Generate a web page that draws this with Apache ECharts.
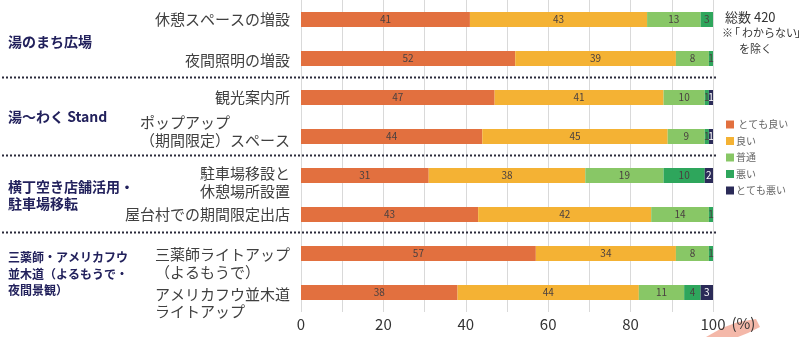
<!DOCTYPE html>
<html>
<head>
<meta charset="utf-8">
<script src="https://cdn.jsdelivr.net/npm/echarts@6/dist/echarts.min.js"></script>
<style>
  html, body { margin: 0; padding: 0; background: #fff; }
  #chart { width: 806px; height: 337px; }
</style>
</head>
<body>
<div id="chart"></div>
<script>
// Evaluation items (top to bottom)
const categories = [
  '休憩スペースの増設',
  '夜間照明の増設',
  '観光案内所',
  'ポップアップ\n（期間限定）スペース',
  '駐車場移設と\n休憩場所設置',
  '屋台村での期間限定出店',
  '三薬師ライトアップ\n（よるもうで）',
  'アメリカフウ並木道\nライトアップ'
];

// Share of answers per item (%)
const veryGood = [41, 52, 47, 44, 31, 43, 57, 38];
const good     = [43, 39, 41, 45, 38, 42, 34, 44];
const fair     = [13,  8, 10,  9, 19, 14,  8, 11];
const bad      = [ 3,  1,  1,  1, 10,  1,  1,  4];
const veryBad  = [ 0,  0,  1,  1,  2,  0,  0,  3];

const seriesNames = ['とても良い', '良い', '普通', '悪い', 'とても悪い'];
const seriesColors = ['#E2703F', '#F4B234', '#88C766', '#2EA65C', '#2B2B58'];

// Area groups drawn at the left edge
const groupLabels = [
  { text: '湯のまち広場', y: 42, size: 14 },
  { text: '湯〜わく Stand', y: 117, size: 14 },
  { text: '横丁空き店舗活用・\n駐車場移転', y: 195, size: 14, lh: 16.5 },
  { text: '三薬師・アメリカフウ\n並木道（よるもうで・\n夜間景観）', y: 274, size: 12, lh: 16.5 }
];
const separatorYs = [77.5, 155.5, 232.5];

const FONT = '"Noto Sans CJK JP", "Noto Sans", sans-serif';

// vertical nudges for the multi-line item labels
const labelPad = [null, [4, 0, 0, 0], null, [0, 0, 10, 0], [14, 0, 0, 0], null, [20, 0, 0, 0], [21, 0, 0, 0]];

const yData = categories.map((c, i) => {
  const item = { value: c };
  if (labelPad[i]) item.textStyle = { padding: labelPad[i] };
  return item;
});

const chart = echarts.init(document.getElementById('chart'), null, { renderer: 'canvas' });

const seriesData = [veryGood, good, fair, bad, veryBad];
const series = seriesData.map((arr, si) => ({
  name: seriesNames[si],
  type: 'bar',
  stack: 'total',
  barWidth: 15,
  data: arr,
  itemStyle: { color: seriesColors[si] },
  label: {
    show: true,
    position: 'inside',
    fontSize: 10,
    fontFamily: FONT,
    color: si === 4 ? '#ffffff' : '#4a4040',
    formatter: p => (p.value ? String(p.value) : '')
  }
}));

const graphics = [];
separatorYs.forEach(y => {
  graphics.push({
    type: 'line',
    shape: { x1: 2, y1: y, x2: 716, y2: y },
    style: { stroke: '#2a2a3a', lineWidth: 2, lineDash: [2, 2] },
    z: 10
  });
});
groupLabels.forEach(g => {
  graphics.push({
    type: 'text',
    x: 8,
    y: g.y,
    style: {
      text: g.text,
      font: 'bold ' + g.size + 'px ' + FONT,
      fill: '#22215C',
      lineHeight: g.lh || g.size + 4,
      verticalAlign: 'middle'
    }
  });
});

// footnote at top right
function note(text, x, y, size) {
  graphics.push({ type: 'text', x: x, y: y, style: { text: text, font: size + 'px ' + FONT, fill: '#333', verticalAlign: 'middle' } });
}
note('総数 420', 725, 17, 13);
note('※', 722, 33, 11);
note('「', 729, 33, 11);
note('わからない', 742, 33, 11);
note('」', 795, 33, 11);
note('を除く', 739, 49, 11);

// salmon brush stroke behind the axis unit
graphics.push({
  type: 'polygon',
  shape: { points: [[706, 337], [722, 328], [738, 322], [756, 319], [760, 327], [748, 333], [738, 337]] },
  style: { fill: 'rgba(240,160,140,0.75)' },
  z: -1
});

chart.setOption({
  animation: false,
  backgroundColor: '#ffffff',
  textStyle: { fontFamily: FONT },
  grid: { left: 301, right: 93, top: 0, bottom: 25, containLabel: false },
  legend: {
    orient: 'vertical',
    left: 721,
    top: 114,
    itemWidth: 8,
    itemHeight: 8,
    itemGap: 5.5,
    icon: 'rect',
    data: seriesNames,
    formatter: n => (n === 'とても良い' ? ' ' + n : n),
    textStyle: { fontSize: 10, color: '#666', lineHeight: 11, fontFamily: FONT, padding: [0, 0, 0, -3] }
  },
  xAxis: {
    type: 'value',
    min: 0,
    max: 100,
    interval: 10,
    axisLine: { show: false },
    axisTick: { show: false },
    splitLine: { show: true, lineStyle: { color: '#d9d9d9', width: 1 } },
    axisLabel: {
      fontSize: 15,
      color: '#333',
      margin: 5,
      formatter: v => (v % 20 === 0 ? String(v) : '')
    },
    name: '(%)',
    nameLocation: 'end',
    nameGap: 14,
    nameTextStyle: { fontSize: 15, color: '#333', verticalAlign: 'top', align: 'left', padding: [4, 0, 0, 0] }
  },
  yAxis: {
    type: 'category',
    inverse: true,
    data: yData,
    axisLine: { show: false },
    axisTick: { show: false },
    axisLabel: {
      interval: 0,
      margin: 11,
      fontSize: 15,
      color: '#404040',
      lineHeight: 17.5,
      formatter: v => v.split('\n').map(s => '{t|' + s + '}').join('\n'),
      rich: { t: { align: 'left', fontSize: 15, color: '#404040', lineHeight: 17.5 } }
    }
  },
  series: series,
  graphic: graphics
});
</script>
</body>
</html>
